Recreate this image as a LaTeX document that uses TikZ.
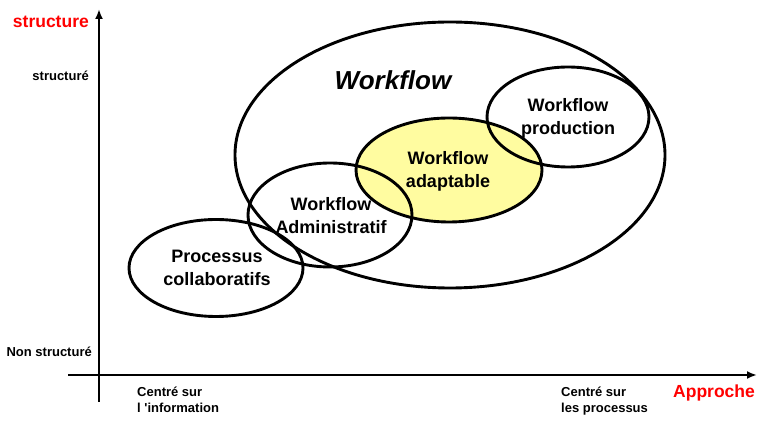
\documentclass[tikz,border=0pt]{standalone}
\usepackage{fontspec}
\setmainfont{Liberation Sans}
\usetikzlibrary{shapes.geometric,arrows.meta}
\definecolor{wfyellow}{RGB}{255,252,160}
\definecolor{axred}{RGB}{255,0,0}
\tikzset{
  oval/.style={ellipse, draw=black, line width=2.9pt, inner sep=0pt},
  lbl/.style={align=center, font=\fontsize{18}{23}\selectfont\bfseries, inner sep=0pt},
  axis/.style={line width=2.3pt, -{Latex[length=10pt,width=8pt]}},
  tick/.style={font=\fontsize{13}{16}\selectfont\bfseries, inner sep=0pt},
  axtitle/.style={font=\fontsize{17.5}{20}\selectfont\bfseries, text=axred, inner sep=0pt}
}
\begin{document}
\begin{tikzpicture}[x=1pt,y=-1pt]
\useasboundingbox (0,0) rectangle (763,427);
% axes
\coordinate (yb) at (99,402);
\coordinate (yt) at (99,9);
\coordinate (xl) at (68,375);
\coordinate (xr) at (757,375);
\draw[axis] (yb) -- (yt);
\draw[axis] (xl) -- (xr);
% ellipses
\node[ellipse, inner sep=0pt, fill=wfyellow, minimum width=186pt, minimum height=104pt] (adaptfill) at (449,170) {};
\node[oval, minimum width=430pt, minimum height=266pt] (wf) at (450,155) {};
\node[oval, minimum width=162pt, minimum height=100pt] (prod) at (568,117) {};
\node[oval, minimum width=164pt, minimum height=104pt] (admin) at (330,215) {};
\node[oval, minimum width=174pt, minimum height=97pt] (collab) at (216,268) {};
\node[oval, minimum width=186pt, minimum height=104pt] (adapt) at (449,170) {};
% labels
\node[inner sep=0pt, font=\fontsize{26}{30}\selectfont\bfseries\itshape] (wft) at (393,80) {Workflow};
\node[lbl] (prodt) at (568,118) {Workflow\\production};
\node[lbl] (adaptt) at (448,171) {Workflow\\adaptable};
\node[lbl] (admint) at (331,216) {Workflow\\Administratif};
\node[lbl] (collabt) at (217,268) {Processus\\collaboratifs};
% axis labels
\node[axtitle, anchor=east] (ystr) at (89,22) {structure};
\node[tick, anchor=east] (ys) at (89,76) {structuré};
\node[tick, anchor=east] (yns) at (92,352) {Non structuré};
\node[tick, anchor=north west, align=left] (xi) at (137,387) {Centré sur\\l \textquotesingle information};
\node[tick, anchor=north west, align=left] (xp) at (561,387) {Centré sur\\les processus};
\node[axtitle, anchor=west] (xapp) at (673,393) {Approche};
\end{tikzpicture}
\end{document}
